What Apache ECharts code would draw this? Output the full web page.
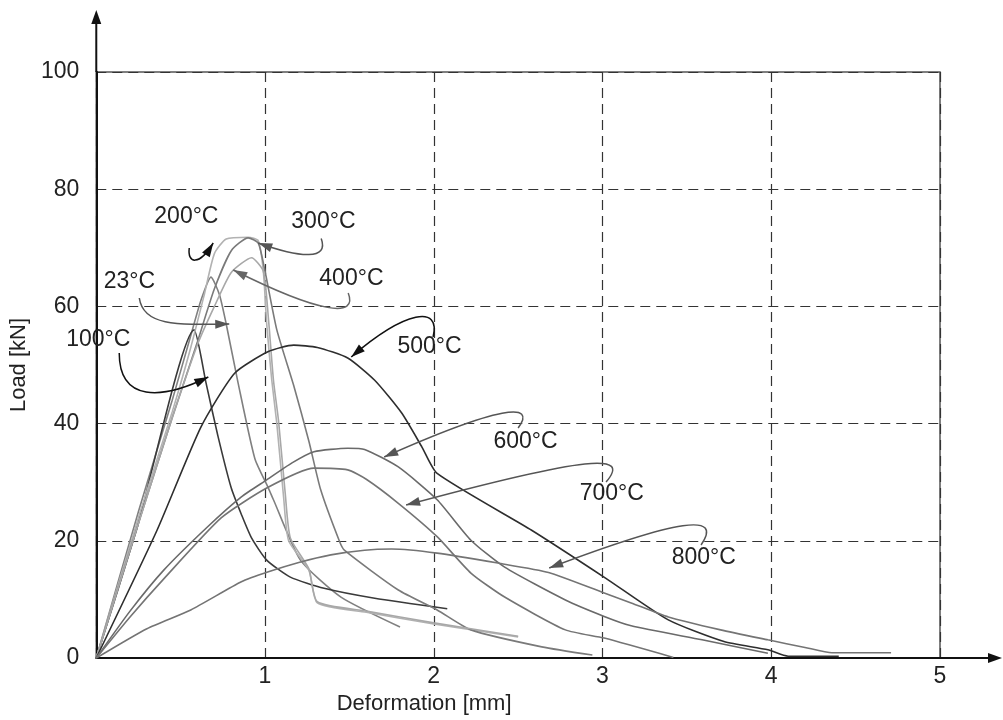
<!DOCTYPE html>
<html>
<head>
<meta charset="utf-8">
<title>Load - deformation</title>
<script src="https://cdn.jsdelivr.net/npm/echarts@6/dist/echarts.min.js"></script>
<style>
	html, body { margin: 0; padding: 0; background: #fff; }
	#chart { width: 1003px; height: 720px; }
</style>
</head>
<body>
<div id="chart"></div>
<script>
// curves, [deformation mm, load kN]
const c23 = [[0,0],[0.25,25],[0.45,44],[0.55,54],[0.62,61],[0.68,65],[0.73,62],[0.77,57],[0.84,47],[0.94,34],[1.02,29],[1.05,27],[1.21,16.7],[1.45,10.4],[1.8,5.3]];
const c100 = [[0,0],[0.24,22],[0.58,56],[0.65,47],[0.72,38],[0.8,29],[0.86,24.5],[0.92,20.5],[1.01,16.7],[1.15,13.8],[1.35,11.9],[1.65,10.2],[2.08,8.4]];
const c200 = [[0,0],[0.25,24],[0.45,42],[0.56,53],[0.64,62],[0.7,69],[0.77,71.5],[0.9,71.8],[0.96,71.2],[0.99,66],[1.01,57],[1.04,47.4],[1.07,40],[1.11,27.5],[1.14,20],[1.26,15],[1.31,9.4],[1.6,7.8],[2.0,5.8],[2.5,3.6]];
const c300 = [[0,0],[0.25,23],[0.45,41],[0.6,54],[0.7,63],[0.8,69.5],[0.9,71.7],[0.96,70.8],[1.0,66],[1.07,56],[1.17,46.5],[1.26,37],[1.33,28.7],[1.44,20],[1.47,18.4],[1.79,11.6],[2.02,8.2],[2.22,4.8],[2.64,1.9],[2.94,0.5]];
const c400 = [[0,0],[0.25,23],[0.45,41],[0.6,53.5],[0.7,60],[0.8,65.8],[0.92,68.3],[0.99,66],[1.02,58],[1.05,47.4],[1.08,40.5],[1.12,28],[1.15,20.5],[1.26,15.2],[1.31,9.6],[1.6,8],[2.0,6],[2.5,3.7]];
const c500 = [[0,0],[0.36,21.8],[0.62,39.4],[0.82,48.6],[1.02,52.3],[1.17,53.4],[1.31,53],[1.49,51.2],[1.65,47.4],[1.81,41.8],[1.93,36],[2.02,31.5],[2.58,21.8],[3.02,13.6],[3.39,6.5],[3.72,2.8],[3.98,1.4],[4.1,0.3],[4.4,0.3]];
const c600 = [[0,0],[0.2,8],[0.4,15],[0.66,22.4],[0.86,27.5],[1.01,30.4],[1.16,33.3],[1.29,35.2],[1.49,35.8],[1.59,35.6],[1.79,32.6],[2.02,27],[2.22,20.1],[2.42,15.5],[2.78,9.9],[3.01,7.1],[3.17,5.5],[3.59,3.1],[3.98,0.8]];
const c700 = [[0,0],[0.2,7],[0.4,13.5],[0.74,23.9],[1.01,29],[1.29,32.4],[1.49,32.1],[1.6,30.5],[1.79,26.4],[2.02,20.7],[2.22,14.5],[2.42,10.4],[2.78,4.8],[3.01,3.4],[3.42,0.1]];
const c800 = [[0,0],[0.3,5],[0.56,8.2],[0.86,13],[1.02,14.7],[1.2,16.3],[1.39,17.6],[1.59,18.4],[1.75,18.6],[2.02,17.9],[2.38,16.2],[2.68,14.6],[3.01,11.1],[3.17,9.4],[3.39,7],[3.7,4.8],[3.98,3.1],[4.2,1.8],[4.36,0.9],[4.71,0.9]];

const curveNames = ['23°C', '100°C', '200°C', '300°C', '400°C', '500°C', '600°C', '700°C', '800°C'];
const curveData = [c23, c100, c200, c300, c400, c500, c600, c700, c800];
const curveColors = ['#808080', '#3a3a3a', '#b2b2b2', '#7a7a7a', '#a8a8a8', '#2e2e2e', '#6a6a6a', '#747474', '#747474'];

// labels and their hooked arrows, in data units
const notes = [
	{ text: '200°C', at: [0.534, 75.3], path: [[0.551, 69.97], [0.539, 67.24], [0.61, 66.89], [0.693, 70.82]], color: '#111' },
	{ text: '300°C', at: [1.346, 74.4], path: [[1.333, 71.6], [1.38, 67.9], [1.215, 68.2], [0.96, 70.82]], color: '#555' },
	{ text: '23°C', at: [0.196, 64.3], path: [[0.255, 61.43], [0.278, 56.66], [0.474, 56.83], [0.788, 57.0]], color: '#555' },
	{ text: '400°C', at: [1.512, 64.7], path: [[1.493, 62.29], [1.552, 58.02], [1.333, 58.7], [0.812, 66.21]], color: '#666' },
	{ text: '100°C', at: [0.012, 54.4], path: [[0.136, 52.05], [0.136, 43.69], [0.385, 44.03], [0.664, 47.95]], color: '#111' },
	{ text: '500°C', at: [1.975, 53.2], path: [[1.996, 54.78], [2.044, 60.24], [1.836, 59.39], [1.511, 51.37]], color: '#111' },
	{ text: '600°C', at: [2.544, 36.9], path: [[2.5, 39.25], [2.613, 43.69], [2.399, 43.17], [1.706, 34.3]], color: '#555' },
	{ text: '700°C', at: [3.055, 28.0], path: [[3.021, 30.03], [3.169, 34.98], [2.932, 34.64], [1.836, 26.11]], color: '#555' },
	{ text: '800°C', at: [3.6, 17.2], path: [[3.584, 19.28], [3.714, 24.74], [3.466, 23.89], [2.684, 15.36]], color: '#555' },
];

const fontFamily = '"Liberation Sans", Arial, Helvetica, sans-serif';
const chart = echarts.init(document.getElementById('chart'));

const dashed = { type: [10, 6], color: '#333', width: 1.2 };

const option = {
	animation: false,
	backgroundColor: '#fff',
	textStyle: { fontFamily: fontFamily },
	grid: { left: 95, right: 63, top: 72, bottom: 62, show: true, borderColor: '#555', borderWidth: 1.5 },
	xAxis: {
		type: 'value',
		min: 0,
		max: 5,
		interval: 1,
		name: 'Deformation [mm]',
		nameLocation: 'middle',
		nameGap: 33,
		nameTextStyle: { fontSize: 22, color: '#222', padding: [0, 188, 0, 0] },
		axisLine: { show: true, lineStyle: { color: '#111', width: 2 } },
		axisTick: { show: false },
		axisLabel: { fontSize: 23, color: '#222', margin: 7, formatter: (v) => (v === 0 ? '' : v) },
		splitLine: { show: true, lineStyle: dashed },
	},
	yAxis: {
		type: 'value',
		min: 0,
		max: 100,
		interval: 20,
		name: 'Load [kN]',
		nameLocation: 'middle',
		nameGap: 62,
		nameTextStyle: { fontSize: 22, color: '#222' },
		axisLine: { show: true, lineStyle: { color: '#111', width: 2 } },
		axisTick: { show: false },
		axisLabel: { fontSize: 23, color: '#222', margin: 17 },
		splitLine: { show: true, lineStyle: dashed },
	},
	series: curveData.map((d, i) => ({
		name: curveNames[i],
		type: 'line',
		data: d,
		showSymbol: false,
		smooth: 0.2,
		lineStyle: { color: curveColors[i], width: 1.6 },
		z: 3,
	})),
};

chart.setOption(option);

function toPx(p) {
	return chart.convertToPixel({ gridIndex: 0 }, p);
}

function arrowHead(tip, from, color, len, wid) {
	let dx = tip[0] - from[0];
	let dy = tip[1] - from[1];
	let d = Math.sqrt(dx * dx + dy * dy) || 1;
	dx /= d;
	dy /= d;
	let bx = tip[0] - dx * len;
	let by = tip[1] - dy * len;
	return {
		type: 'polygon',
		shape: { points: [tip, [bx - dy * wid / 2, by + dx * wid / 2], [bx + dy * wid / 2, by - dx * wid / 2]] },
		style: { fill: color },
		z: 20,
	};
}

let graphics = [];
notes.forEach((n) => {
	let p = n.path.map(toPx);
	graphics.push({
		type: 'bezierCurve',
		shape: { x1: p[0][0], y1: p[0][1], cpx1: p[1][0], cpy1: p[1][1], cpx2: p[2][0], cpy2: p[2][1], x2: p[3][0], y2: p[3][1] },
		style: { stroke: n.color, lineWidth: 1.5, fill: null },
		z: 19,
	});
	graphics.push(arrowHead(p[3], p[2], n.color, 14, 9));
	let t = toPx(n.at);
	graphics.push({
		type: 'text',
		x: t[0],
		y: t[1],
		style: { text: n.text, fontSize: 23, fontFamily: fontFamily, fill: '#222', align: 'center', verticalAlign: 'middle' },
		z: 21,
	});
});

// axis arrows running past the frame
let yTop = toPx([0, 100]);
let xEnd = toPx([5, 0]);
graphics.push({ type: 'line', shape: { x1: yTop[0], y1: yTop[1], x2: yTop[0], y2: yTop[1] - 52 }, style: { stroke: '#111', lineWidth: 2 }, z: 20 });
graphics.push(arrowHead([yTop[0], yTop[1] - 62], [yTop[0], yTop[1]], '#111', 14, 10));
graphics.push({ type: 'line', shape: { x1: xEnd[0], y1: xEnd[1], x2: xEnd[0] + 50, y2: xEnd[1] }, style: { stroke: '#111', lineWidth: 2 }, z: 20 });
graphics.push(arrowHead([xEnd[0] + 62, xEnd[1]], [xEnd[0], xEnd[1]], '#111', 14, 10));

chart.setOption({ graphic: graphics });
</script>
</body>
</html>
